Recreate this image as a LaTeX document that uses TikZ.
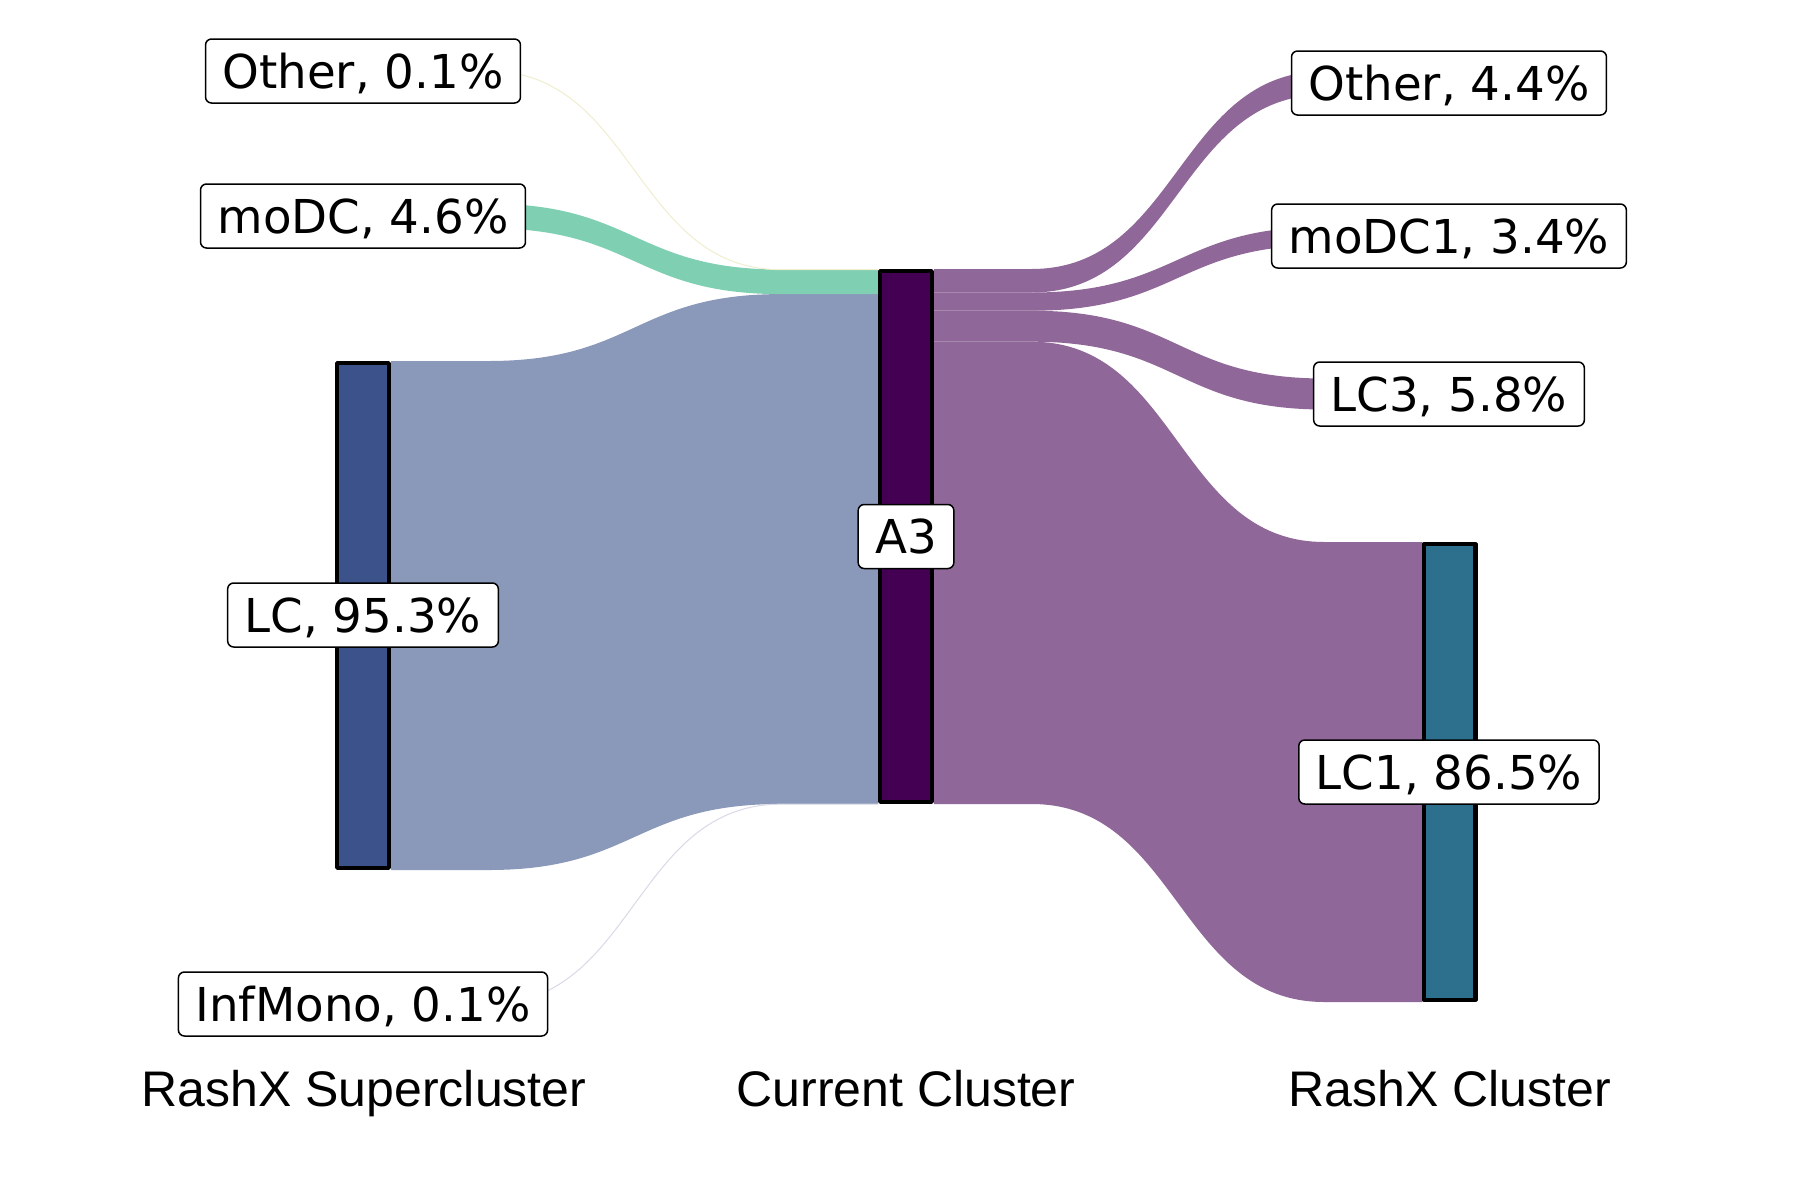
\documentclass[tikz,border=0pt]{standalone}
\usepackage{fontspec}
\setmainfont{DejaVu Sans}
\newfontfamily\axisfont{Liberation Sans}
\definecolor{LCbar}{HTML}{3B528B}
\definecolor{LCflow}{HTML}{8A98B9}
\definecolor{Athreebar}{HTML}{440154}
\definecolor{Athreeflow}{HTML}{8F6798}
\definecolor{moDCflow}{HTML}{7FCFB2}
\definecolor{LConebar}{HTML}{2D708E}
\definecolor{OtherLflow}{HTML}{F0EED0}
\definecolor{Infflow}{HTML}{D9D9E8}
% band between two columns: colour, xa, xb, ya-top, ya-bottom, yb-top, yb-bottom
\newcommand{\sankeyflow}[7]{%
  \pgfmathsetmacro{\sfLa}{#2+0.2*(#3-#2)}%
  \pgfmathsetmacro{\sfLb}{#2+0.8*(#3-#2)}%
  \pgfmathsetmacro{\sfLm}{0.5*(#2+#3)}%
  \fill[#1] (#2,#4) -- (\sfLa,#4) .. controls (\sfLm,#4) and (\sfLm,#6) .. (\sfLb,#6) -- (#3,#6)
    -- (#3,#7) -- (\sfLb,#7) .. controls (\sfLm,#7) and (\sfLm,#5) .. (\sfLa,#5) -- (#2,#5) -- cycle;}
% hairline flow: colour, xa, xb, ya, yb
\newcommand{\sankeyline}[5]{%
  \pgfmathsetmacro{\sfLa}{#2+0.2*(#3-#2)}%
  \pgfmathsetmacro{\sfLb}{#2+0.8*(#3-#2)}%
  \pgfmathsetmacro{\sfLm}{0.5*(#2+#3)}%
  \draw[#1, line width=0.5pt] (#2,#4) -- (\sfLa,#4) .. controls (\sfLm,#4) and (\sfLm,#5) .. (\sfLb,#5) -- (#3,#5);}
\begin{document}
\begin{tikzpicture}[x=0.5pt,y=-0.5pt,
  lbl/.style={draw=black, line width=0.75pt, fill=white, rounded corners=3pt,
    font=\fontsize{23.35}{28}\selectfont, inner xsep=8.5pt, inner ysep=0pt,
    text height=17pt, text depth=0pt, minimum height=32pt},
  barbox/.style={draw=black, line width=2.2pt, line join=round, inner sep=0pt, minimum width=25.8pt},
  axislbl/.style={font=\axisfont\fontsize{25}{30}\selectfont, anchor=base}]
\fill[white] (0,0) rectangle (1800,1200);
\useasboundingbox (0,0) rectangle (1800,1200);
% flows into A3
\sankeyflow{LCflow}{391}{878}{361}{870}{294.1}{804}
\sankeyflow{moDCflow}{391}{878}{203.7}{228.3}{269.5}{294.1}
\sankeyline{OtherLflow}{391}{878}{71}{269.6}
\sankeyline{Infflow}{391}{878}{1004}{804.2}
% flows out of A3
\sankeyflow{Athreeflow}{934}{1422}{269}{292.5}{71.25}{94.75}
\sankeyflow{Athreeflow}{934}{1422}{292.5}{310.7}{226.9}{245.1}
\sankeyflow{Athreeflow}{934}{1422}{310.7}{341.7}{378.5}{409.5}
\sankeyflow{Athreeflow}{934}{1422}{341.7}{804}{542}{1002}
% bars
\node[barbox, fill=LCbar, minimum height=252.3pt] (LCbarnode) at (363,615.5) {};
\node[barbox, fill=Athreebar, minimum height=265.3pt] (A3barnode) at (906,536.5) {};
\node[barbox, fill=LConebar, minimum height=227.8pt] (LC1barnode) at (1449.5,772) {};
% labels
\node[lbl] (otherL) at (363,71) {Other, 0.1\%};
\node[lbl] (modc) at (363,216) {moDC, 4.6\%};
\node[lbl] (lc) at (363,615) {LC, 95.3\%};
\node[lbl] (infmono) at (363,1004) {InfMono, 0.1\%};
\node[lbl] (a3) at (906,536.5) {A3};
\node[lbl] (otherR) at (1449,83) {Other, 4.4\%};
\node[lbl] (modc1) at (1449,236) {moDC1, 3.4\%};
\node[lbl] (lc3) at (1449,394) {LC3, 5.8\%};
\node[lbl] (lc1) at (1449,772) {LC1, 86.5\%};
% column titles
\node[axislbl] (t1) at (364,1106) {RashX Supercluster};
\node[axislbl] (t2) at (906,1106) {Current Cluster};
\node[axislbl] (t3) at (1450,1106) {RashX Cluster};
\end{tikzpicture}
\end{document}
